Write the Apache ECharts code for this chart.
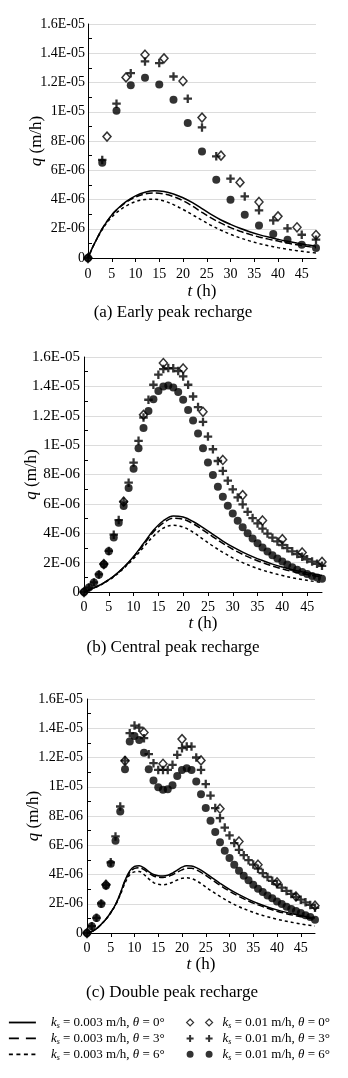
<!DOCTYPE html>
<html><head><meta charset="utf-8">
<script src="https://cdn.jsdelivr.net/npm/echarts@6/dist/echarts.min.js"></script>
<style>html,body{margin:0;padding:0;background:#fff}#c{width:348px;height:1078px}</style>
</head><body><div id="c"></div>
<script>
// ---------- tick labels / names ----------
const xTicks = [0,5,10,15,20,25,30,35,40,45];
const yTickLabels = ['0','2E-06','4E-06','6E-06','8E-06','1E-05','1.2E-05','1.4E-05','1.6E-05'];
const seriesNames = ['ks003t0','ks003t3','ks003t6','ks01t0','ks01t3','ks01t6'];
const legendTexts = [
  '{i|k}{s|s}{n| = 0.003 m/h, }{i|θ}{n| = 0°}',
  '{i|k}{s|s}{n| = 0.003 m/h, }{i|θ}{n| = 3°}',
  '{i|k}{s|s}{n| = 0.003 m/h, }{i|θ}{n| = 6°}',
  '{i|k}{s|s}{n| = 0.01 m/h, }{i|θ}{n| = 0°}',
  '{i|k}{s|s}{n| = 0.01 m/h, }{i|θ}{n| = 3°}',
  '{i|k}{s|s}{n| = 0.01 m/h, }{i|θ}{n| = 6°}'
];
const captions = ['(a) Early peak recharge','(b) Central peak recharge','(c) Double peak recharge'];
// values in units of 1E-06 m/h

// ---------- (a) Early peak ----------
const aLineT = [0,1,2,3,4,5,6,8,10,12,14,16,18,20,22,24,26,28,30,32,34,36,38,40,42,44,46,48];
const aSolid = [0,0.75,1.4,2.0,2.5,2.95,3.3,3.85,4.25,4.5,4.6,4.55,4.38,4.12,3.78,3.38,2.96,2.6,2.3,2.03,1.8,1.6,1.43,1.28,1.14,1.02,0.91,0.81];
const aDash  = [0,0.75,1.4,2.0,2.5,2.93,3.27,3.8,4.17,4.38,4.44,4.38,4.2,3.92,3.55,3.12,2.72,2.38,2.08,1.83,1.62,1.44,1.29,1.16,1.02,0.9,0.8,0.7];
const aDot   = [0,0.74,1.38,1.95,2.42,2.8,3.1,3.55,3.85,4.0,4.02,3.9,3.65,3.32,2.95,2.58,2.22,1.9,1.62,1.38,1.17,0.99,0.84,0.71,0.6,0.5,0.42,0.34];
const aDiamondT = [0,4,8,12,16,20,24,28,32,36,40,44,48];
const aDiamond  = [0,8.3,12.35,13.9,13.65,12.1,9.6,7.0,5.17,3.83,2.85,2.1,1.57];
const aPointT = [0,3,6,9,12,15,18,21,24,27,30,33,36,39,42,45,48];
const aPlus   = [0,6.7,10.55,12.64,13.44,13.33,12.41,10.89,8.93,6.95,5.42,4.21,3.26,2.57,2.03,1.59,1.25];
const aCircle = [0,6.51,10.07,11.82,12.32,11.87,10.82,9.23,7.29,5.35,3.99,2.96,2.23,1.64,1.25,0.91,0.68];

// ---------- (b) Central peak ----------
const bLineT = [0,2,4,6,8,10,12,14,16,18,20,22,24,26,28,30,32,34,36,38,40,42,44,46,48];
const bSolid = [0,0.28,0.62,1.08,1.68,2.42,3.3,4.2,4.85,5.18,5.1,4.8,4.38,3.92,3.47,3.07,2.72,2.41,2.14,1.9,1.7,1.52,1.37,1.24,1.12];
const bDash  = [0,0.28,0.62,1.07,1.66,2.38,3.22,4.08,4.7,5.03,4.96,4.65,4.22,3.76,3.31,2.91,2.56,2.26,2.0,1.77,1.57,1.4,1.26,1.13,1.02];
const bDot   = [0,0.27,0.6,1.04,1.6,2.28,3.05,3.8,4.35,4.55,4.42,4.07,3.6,3.13,2.7,2.32,2.0,1.72,1.49,1.29,1.12,0.97,0.85,0.74,0.65];
const bDiamondT = [0,4,8,12,16,20,24,28,32,36,40,44,48];
const bDiamond  = [0,1.9,6.15,12.06,15.59,15.22,12.27,8.99,6.6,4.87,3.6,2.69,2.05];
const bPointT = [0,1,2,3,4,5,6,7,8,9,10,11,12,13,14,15,16,17,18,19,20,21,22,23,24,25,26,27,28,29,30,31,32,33,34,35,36,37,38,39,40,41,42,43,44,45,46,47,48];
const bPlus   = [0,0.3,0.65,1.2,1.9,2.8,3.9,4.9,6.15,7.44,8.81,10.29,11.88,13.09,14.11,14.8,15.18,15.25,15.23,15.04,14.68,14.11,13.31,12.59,11.58,10.58,9.72,8.92,8.24,7.58,6.99,6.44,5.96,5.46,5.03,4.67,4.32,3.98,3.7,3.44,3.2,2.98,2.77,2.58,2.4,2.23,2.07,1.92,1.78];
const bCircle = [0,0.3,0.64,1.18,1.87,2.78,3.71,4.71,5.85,7.08,8.4,9.79,11.17,12.33,13.13,13.68,14.0,14.06,13.93,13.61,13.09,12.4,11.67,10.79,9.79,8.81,7.97,7.17,6.49,5.87,5.35,4.85,4.41,4.0,3.64,3.32,3.03,2.75,2.5,2.28,2.07,1.87,1.68,1.52,1.37,1.23,1.09,0.98,0.91];

// ---------- (c) Double peak ----------
const cLineT = [0,1,2,3,4,5,6,7,8,9,10,11,12,13,14,15,16,17,18,19,20,21,22,23,24,26,28,30,32,34,36,38,40,42,44,46,48];
const cSolid = [0,0.1,0.3,0.6,0.95,1.4,1.95,2.7,3.6,4.25,4.55,4.6,4.45,4.2,4.0,3.92,3.9,3.95,4.1,4.3,4.5,4.6,4.58,4.47,4.3,3.85,3.4,2.98,2.62,2.3,2.02,1.78,1.58,1.41,1.26,1.13,1.02];
const cDash  = [0,0.1,0.3,0.6,0.95,1.4,1.93,2.67,3.55,4.15,4.42,4.47,4.33,4.1,3.9,3.82,3.8,3.85,3.98,4.15,4.32,4.42,4.42,4.32,4.15,3.72,3.27,2.86,2.5,2.19,1.92,1.69,1.49,1.32,1.18,1.05,0.94];
const cDot   = [0,0.1,0.3,0.6,0.95,1.38,1.9,2.6,3.42,3.98,4.18,4.2,4.0,3.7,3.45,3.33,3.3,3.35,3.47,3.62,3.74,3.77,3.72,3.58,3.38,2.92,2.5,2.12,1.8,1.53,1.3,1.11,0.94,0.8,0.68,0.57,0.48];
const cDiamondT = [0,4,8,12,16,20,24,28,32,36,40,44,48];
const cDiamond  = [0,3.3,11.77,13.71,11.57,13.26,11.8,8.5,6.26,4.67,3.46,2.5,1.87];
const cPointT = bPointT;
const cPlus   = [0,0.47,1.04,2.02,3.3,4.83,6.6,8.65,11.79,13.66,14.18,14.04,13.32,12.23,11.61,11.15,11.15,11.15,11.5,12.18,12.64,12.75,12.75,12.0,11.15,10.18,9.4,8.54,7.85,7.21,6.67,6.15,5.69,5.32,4.98,4.68,4.4,4.1,3.83,3.57,3.33,3.1,2.88,2.67,2.47,2.28,2.1,1.92,1.72];
const cCircle = [0,0.46,1.02,1.98,3.23,4.73,6.3,8.31,11.2,13.09,13.47,13.2,12.33,11.2,10.43,9.97,9.79,9.83,10.1,10.74,11.15,11.26,11.15,10.36,9.49,8.54,7.67,6.9,6.21,5.62,5.12,4.67,4.26,3.91,3.6,3.3,3.03,2.8,2.57,2.37,2.16,1.98,1.8,1.64,1.5,1.37,1.21,1.09,0.91];

// ---------- build ----------
const FONT = 'Liberation Serif';
const zip = (t, v) => t.map((x, i) => [x, v[i]]);
const panels = [
  {lines:[[aLineT,aSolid],[aLineT,aDash],[aLineT,aDot]], dia:[aDiamondT,aDiamond], plus:[aPointT,aPlus], circ:[aPointT,aCircle],
   grid:{left:88, top:24, width:228, height:234}, xMargin:9, xGap:25, yGap:43, yMargin:3, yFont:14, cap:[173,313]},
  {lines:[[bLineT,bSolid],[bLineT,bDash],[bLineT,bDot]], dia:[bDiamondT,bDiamond], plus:[bPointT,bPlus], circ:[bPointT,bCircle],
   grid:{left:84, top:357, width:238, height:235}, xMargin:8.5, xGap:23, yGap:44, yMargin:4, yFont:15, cap:[173,648]},
  {lines:[[cLineT,cSolid],[cLineT,cDash],[cLineT,cDot]], dia:[cDiamondT,cDiamond], plus:[cPointT,cPlus], circ:[cPointT,cCircle],
   grid:{left:87, top:699, width:228, height:234}, xMargin:8.5, xGap:23, yGap:45, yMargin:4, yFont:14, cap:[172,993]}
];
const lineTypes = ['solid',[7,3],[3,3]];
const PLUS = 'path://M3,0 L5.2,0 L5.2,3 L8.2,3 L8.2,5.2 L5.2,5.2 L5.2,8.2 L3,8.2 L3,5.2 L0,5.2 L0,3 L3,3 Z';

const grids = [], xAxes = [], yAxes = [], series = [], graphics = [];
panels.forEach((p, k) => {
  grids.push(p.grid);
  xAxes.push({
    type:'value', gridIndex:k, min:0, max:48, interval:5,
    name:'{i|t} (h)', nameLocation:'middle', nameGap:p.xGap, nameMoveOverlap:false,
    nameTextStyle:{fontFamily:FONT, fontSize:17, color:'#000', rich:{i:{fontStyle:'italic', fontFamily:FONT, fontSize:17}}},
    axisLine:{lineStyle:{color:'#000', width:1}},
    axisTick:{length:4, lineStyle:{color:'#000'}, customValues:xTicks},
    axisLabel:{fontFamily:FONT, fontSize:14, color:'#000', margin:p.xMargin, customValues:xTicks},
    splitLine:{show:false}
  });
  yAxes.push({
    type:'value', gridIndex:k, min:0, max:16, interval:2,
    name:'{i|q} (m/h)', nameLocation:'middle', nameGap:p.yGap, nameRotate:90, nameMoveOverlap:false,
    nameTextStyle:{fontFamily:FONT, fontSize:17, color:'#000', rich:{i:{fontStyle:'italic', fontFamily:FONT, fontSize:17}}},
    axisLine:{show:true, lineStyle:{color:'#000', width:1}},
    axisTick:{show:false, inside:true, length:4, lineStyle:{color:'#000'}},
    minorTick:{show:true, splitNumber:2, length:4, lineStyle:{color:'#000', width:1}},
    axisLabel:{fontFamily:FONT, fontSize:p.yFont, color:'#000', margin:p.yMargin,
      formatter:v => yTickLabels[Math.round(v / 2)]},
    splitLine:{show:true, lineStyle:{color:'#dcdcdc', width:1}}
  });
  p.lines.forEach((ln, j) => {
    series.push({type:'line', name:seriesNames[j], xAxisIndex:k, yAxisIndex:k, data:zip(ln[0], ln[1]),
      smooth:0.35, symbol:'none', showSymbol:false, silent:true,
      lineStyle:{color:'#000', width:1.5, type:lineTypes[j]}, itemStyle:{color:'#000'}});
  });
  series.push({type:'scatter', name:seriesNames[3], xAxisIndex:k, yAxisIndex:k, data:zip(p.dia[0], p.dia[1]),
    symbol:'diamond', symbolSize:[8,9], itemStyle:{color:'#fff', borderColor:'#000', borderWidth:1.5}});
  series.push({type:'scatter', name:seriesNames[4], xAxisIndex:k, yAxisIndex:k, data:zip(p.plus[0], p.plus[1]),
    symbol:PLUS, symbolSize:8.5, itemStyle:{color:'#000'}});
  series.push({type:'scatter', name:seriesNames[5], xAxisIndex:k, yAxisIndex:k, data:zip(p.circ[0], p.circ[1]),
    symbol:'circle', symbolSize:8, itemStyle:{color:'#000'}});
  graphics.push({type:'text', x:p.cap[0], y:p.cap[1],
    style:{text:captions[k], fontFamily:FONT, fontSize:17, fill:'#000', align:'center', verticalAlign:'middle'}});
});

const legendRich = {
  i:{fontStyle:'italic', fontFamily:FONT, fontSize:13, color:'#000', lineHeight:15.6},
  s:{fontStyle:'italic', fontFamily:FONT, fontSize:8, color:'#000', lineHeight:5, verticalAlign:'bottom'},
  n:{fontFamily:FONT, fontSize:13, color:'#000', lineHeight:15.6}
};
const legendFmt = name => legendTexts[seriesNames.indexOf(name)];
const legendLineTypes = ['solid',[10,7],[4,3.5]];
const ICON_DIA = 'path://M3.5,0 L7,3.5 L3.5,7 L0,3.5 Z M22.5,0 L26,3.5 L22.5,7 L19,3.5 Z';
const ICON_PLUS = 'path://M2.5,0 L4.5,0 L4.5,2.5 L7,2.5 L7,4.5 L4.5,4.5 L4.5,7 L2.5,7 L2.5,4.5 L0,4.5 L0,2.5 L2.5,2.5 Z M21.5,0 L23.5,0 L23.5,2.5 L26,2.5 L26,4.5 L23.5,4.5 L23.5,7 L21.5,7 L21.5,4.5 L19,4.5 L19,2.5 L21.5,2.5 Z';
const ICON_CIRC = 'path://M0,3.5 A3.5,3.5 0 1,0 7,3.5 A3.5,3.5 0 1,0 0,3.5 Z M19,3.5 A3.5,3.5 0 1,0 26,3.5 A3.5,3.5 0 1,0 19,3.5 Z';

const option = {
  animation:false,
  backgroundColor:'#fff',
  grid:grids, xAxis:xAxes, yAxis:yAxes, series:series, graphic:graphics,
  legend:[
    {orient:'vertical', left:8, top:1016, padding:0, itemWidth:27, itemHeight:14, itemGap:1.6, selectedMode:false,
     data:seriesNames.slice(0,3).map((n, j) => ({name:n, itemStyle:{opacity:0},
       lineStyle:{color:'#000', width:1.8, type:legendLineTypes[j]}})),
     formatter:legendFmt,
     textStyle:{fontFamily:FONT, fontSize:13, color:'#000', padding:[0,0,0,10], rich:legendRich}},
    {orient:'vertical', left:186, top:1016, padding:0, itemWidth:26, itemHeight:14, itemGap:1.6, selectedMode:false,
     data:[
       {name:seriesNames[3], icon:ICON_DIA, itemStyle:{color:'#fff', borderColor:'#000', borderWidth:1.2}},
       {name:seriesNames[4], icon:ICON_PLUS, itemStyle:{color:'#000', borderWidth:0}},
       {name:seriesNames[5], icon:ICON_CIRC, itemStyle:{color:'#000', borderWidth:0}}
     ],
     formatter:legendFmt,
     textStyle:{fontFamily:FONT, fontSize:13, color:'#000', padding:[0,0,0,5], rich:legendRich}}
  ]
};
const chart = echarts.init(document.getElementById('c'), null, {renderer:'canvas'});
chart.setOption(option);
</script></body></html>
